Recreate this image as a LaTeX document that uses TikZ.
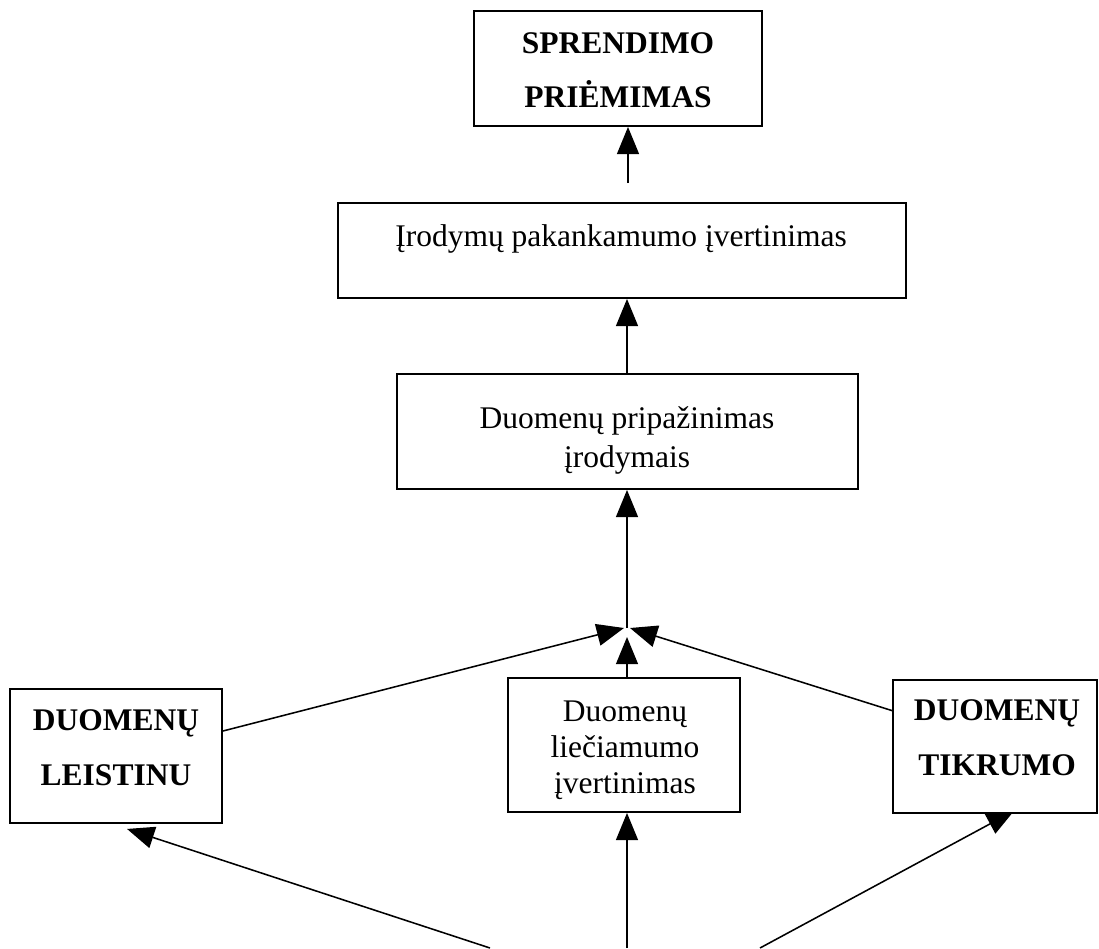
\documentclass[tikz,border=0pt]{standalone}
\usepackage{fontspec}
\setmainfont{Liberation Serif}
\usetikzlibrary{arrows.meta,calc,backgrounds}
\begin{document}
\begin{tikzpicture}[x=0.025cm,y=-0.025cm,
  box/.style={draw=black,line width=1.3pt,fill=white,inner sep=0pt},
  txt/.style={anchor=base,inner sep=0pt,font=\fontsize{22.4}{26}\selectfont},
  btxt/.style={anchor=base,inner sep=0pt,font=\fontsize{22.4}{26}\selectfont\bfseries},
  conn/.style={line width=1.1pt,-{Triangle[length=0.68cm,width=0.55cm]}}]
\useasboundingbox (0,0) rectangle (1099,948);
% boxes
\node[box,minimum width=7.2cm,minimum height=2.875cm] (T) at (618,68.5) {};
\node[box,minimum width=14.2cm,minimum height=2.375cm] (B2) at (622,250.5) {};
\node[box,minimum width=11.525cm,minimum height=2.875cm] (B3) at (627.5,431.5) {};
\node[box,minimum width=5.3cm,minimum height=3.35cm] (L) at (116,756) {};
\node[box,minimum width=5.8cm,minimum height=3.35cm] (M) at (624,745) {};
\node[box,minimum width=5.1cm,minimum height=3.325cm] (R) at (995,746.5) {};
% texts
\node[btxt] (t1) at (618,53) {SPRENDIMO};
\node[btxt] (t2) at (618,107) {PRIĖMIMAS};
\node[txt] (t3) at (621,246) {Įrodymų pakankamumo įvertinimas};
\node[txt] (t4) at (627,428) {Duomenų pripažinimas};
\node[txt] (t5) at (627,467) {įrodymais};
\node[btxt] (t6) at (116,730) {DUOMENŲ};
\node[btxt] (t7) at (116,785) {LEISTINU};
\node[txt] (t8) at (625,721) {Duomenų};
\node[txt] (t9) at (625,757) {liečiamumo};
\node[txt] (t10) at (625,793) {įvertinimas};
\node[btxt] (t11) at (997,720) {DUOMENŲ};
\node[btxt] (t12) at (997,775) {TIKRUMO};
% connectors
\begin{scope}[on background layer]
\fill[white] (0,0) rectangle (1099,948);
\coordinate (C) at (627,628);
\coordinate (a1) at (628,183);
\coordinate (s1) at (490,948);
\coordinate (s2) at (627,948);
\coordinate (s3) at (760,948);
\draw[conn] (a1) -- (a1 |- T.south);
\draw[conn] (C |- B3.north) -- (C |- B2.south);
\draw[conn] (C) -- (C |- B3.south);
\draw[conn] (C |- M.north) -- ($(C)+(0,9)$);
\draw[conn] ($(L.east)+(0,-25)$) -- ($(C)+(-3,0)$);
\draw[conn] ($(R.west)+(6,-34)$) -- ($(C)+(3,0)$);
\draw[conn] (s1) -- ($(L.south)+(11,5)$);
\draw[conn] (s2) -- (s2 |- M.south);
\draw[conn] (s3) -- ($(R.south)+(19,-3)$);
\end{scope}
\end{tikzpicture}
\end{document}
